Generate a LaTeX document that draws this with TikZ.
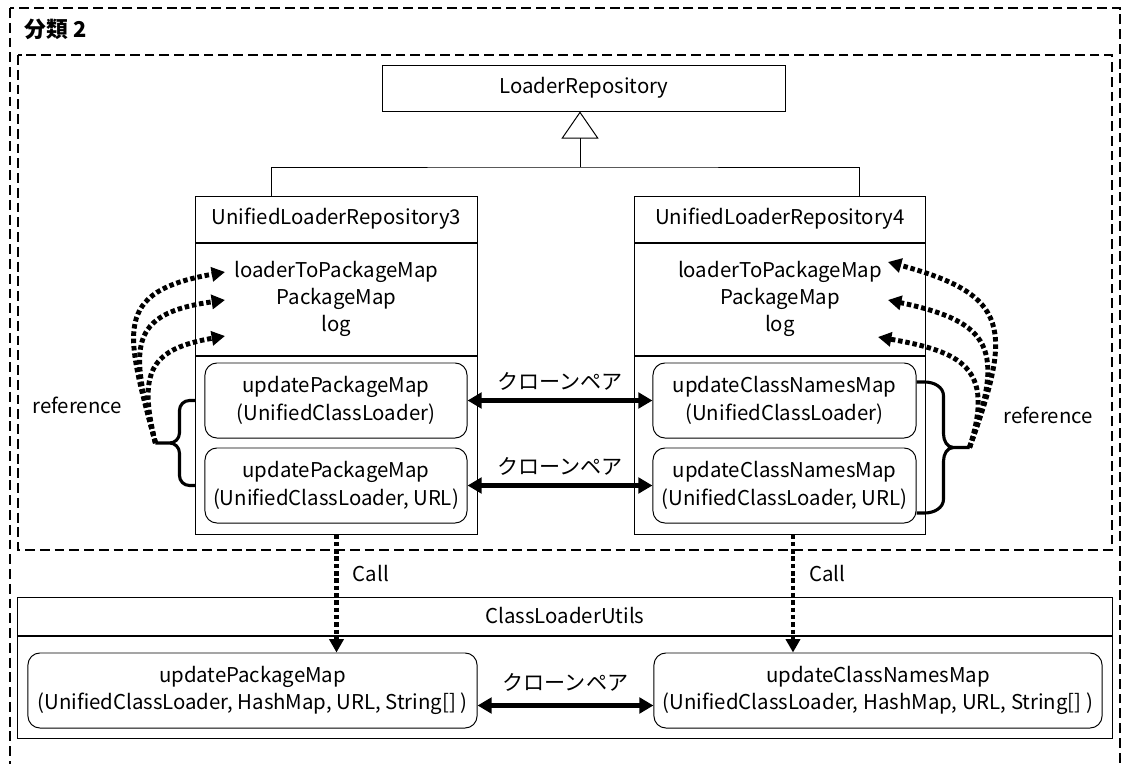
\documentclass[tikz,border=0pt]{standalone}
\usepackage{fontspec}
\setmainfont{Noto Sans CJK JP}
\usetikzlibrary{arrows.meta, positioning, calc}

\begin{document}
\begin{tikzpicture}[x=0.025cm, y=-0.025cm,
  every node/.style={font=\fontsize{14.5}{19.5}\selectfont},
  frame/.style={draw, line width=1.6pt, dash pattern=on 7pt off 3.5pt},
  comp/.style={draw, line width=0.7pt, inner sep=0pt, align=center},
  meth/.style={draw, line width=0.7pt, rounded corners=0.3cm, inner sep=0pt,
               align=center, minimum height=1.875cm},
  jp/.style={font=\fontsize{15}{18}\selectfont, inner sep=0pt},
  clone/.style={line width=3.6pt,
                {Triangle[length=10pt,width=11pt]}-{Triangle[length=10pt,width=11pt]}},
  call/.style={line width=3.5pt, dash pattern=on 3.2pt off 2pt,
               -{Triangle[length=9.5pt,width=10pt]}},
  brc/.style={line width=2.2pt},
  gen/.style={line width=0.7pt}]
  \useasboundingbox (0,0) rectangle (1121,764);

  % frames
  \draw[frame] (10,8) rectangle (1120,790);
  \draw[frame] (18,55) rectangle (1112,550);
  \node[anchor=west, font=\bfseries\fontsize{15.5}{19}\selectfont] (title) at (20,29) {分類 2};

  % interface
  \node[comp, minimum width=10.05cm, minimum height=1.15cm] (lrep) at (584,88) {LoaderRepository};

  % UnifiedLoaderRepository3
  \node[comp, minimum width=7.025cm, minimum height=1.15cm] (name3) at (336.5,219) {UnifiedLoaderRepository3};
  \node[comp, minimum width=7.025cm, minimum height=2.8cm, below=0pt of name3] (attr3)
    {loaderToPackageMap\\PackageMap\\log};
  \node[comp, minimum width=7.025cm, minimum height=4.45cm, below=0pt of attr3] (meth3) {};
  \node[meth, minimum width=6.55cm] (m3a) at (336,400.5) {updatePackageMap\\(UnifiedClassLoader)};
  \node[meth, minimum width=6.55cm] (m3b) at (336,485.5) {updatePackageMap\\(UnifiedClassLoader, URL)};

  % UnifiedLoaderRepository4
  \node[comp, minimum width=7.25cm, minimum height=1.15cm] (name4) at (780,219) {UnifiedLoaderRepository4};
  \node[comp, minimum width=7.25cm, minimum height=2.8cm, below=0pt of name4] (attr4)
    {loaderToPackageMap\\PackageMap\\log};
  \node[comp, minimum width=7.25cm, minimum height=4.45cm, below=0pt of attr4] (meth4) {};
  \node[meth, minimum width=6.575cm] (m4a) at (784.5,400.5) {updateClassNamesMap\\(UnifiedClassLoader)};
  \node[meth, minimum width=6.575cm] (m4b) at (784.5,485.5) {updateClassNamesMap\\(UnifiedClassLoader, URL)};

  % ClassLoaderUtils
  \node[comp, minimum width=27.35cm, minimum height=0.95cm] (uname) at (565,616) {ClassLoaderUtils};
  \node[comp, minimum width=27.35cm, minimum height=2.55cm, below=0pt of uname] (ubody) {};
  \node[meth, minimum width=11.225cm] (u1) at (252.5,690.5)
    {updatePackageMap\\(UnifiedClassLoader, HashMap, URL, String[] )};
  \node[meth, minimum width=11.2cm] (u2) at (878,690.5)
    {updateClassNamesMap\\(UnifiedClassLoader, HashMap, URL, String[] )};

  % generalization
  \coordinate (hub) at (580,167);
  \coordinate (c3) at (271,0);
  \coordinate (c4) at (859,0);
  \draw[gen, -{Triangle[open,length=0.675cm,width=0.925cm]}] (hub) -- (hub |- lrep.south);
  \draw[gen] (name3.north -| c3) |- (hub) -| (name4.north -| c4);

  % clone pairs
  \draw[clone] (m3a.east) -- node[jp, above=0.2cm] {クローンペア} (m4a.west);
  \draw[clone] (m3b.east) -- node[jp, above=0.2cm] {クローンペア} (m4b.west);
  \draw[clone] ([yshift=-0.375cm]u1.east) -- node[jp, above=0.3cm] {クローンペア} ([yshift=-0.375cm]u2.west);

  % calls
  \draw[call] (meth3.south) -- node[pos=0.33, right=0.35cm, inner sep=0pt] {Call} (meth3.south |- u1.north);
  \coordinate (c4s) at ([xshift=0.325cm]meth4.south);
  \draw[call] (c4s) -- node[pos=0.33, right=0.35cm, inner sep=0pt] {Call} (c4s |- u2.north);

  % braces
  \draw[brc] (meth3.west |- m3a.west) -- ++(-6,0) to[out=180,in=90] ++(-10,10) -- ++(0,22.5)
    to[out=-90,in=0] ++(-10,10) coordinate (k3) -- ++(-14,0) coordinate (tip3)
    (k3) to[out=0,in=90] ++(10,10) -- ++(0,22.5) to[out=-90,in=180] ++(10,10) -- ++(6,0);
  \draw[brc] ([yshift=0.4625cm]m4a.east) -- ++(8,0) to[out=0,in=90] ++(19,14) -- ++(0,38)
    to[out=-90,in=180] ++(10,13.5) coordinate (k4) -- ++(16,0) coordinate (tip4)
    (k4) to[out=180,in=90] ++(-10,13.5) -- ++(0,38) to[out=-90,in=0] ++(-19,14) -- ++(-8,0);

  % references
  \coordinate (r3a) at (225,272);
  \coordinate (r3b) at (225,300);
  \coordinate (r3c) at (225,336);
  \coordinate (r4a) at (888,262);
  \coordinate (r4b) at (888,300);
  \coordinate (r4c) at (878,337);
  \draw[call] (tip3) to[out=105,in=190,looseness=1.6] (r3a);
  \draw[call] (tip3) to[out=105,in=188,looseness=1.6] (r3b);
  \draw[call] (tip3) to[out=104,in=190,looseness=1.5] (r3c);
  \draw[call] (tip4) to[out=70,in=-15,looseness=1.6] (r4a);
  \draw[call] (tip4) to[out=70,in=-12,looseness=1.6] (r4b);
  \draw[call] (tip4) to[out=72,in=-10,looseness=1.5] (r4c);
  \node (ref3) at (77,405) {reference};
  \node (ref4) at (1048,415) {reference};
\end{tikzpicture}
\end{document}
